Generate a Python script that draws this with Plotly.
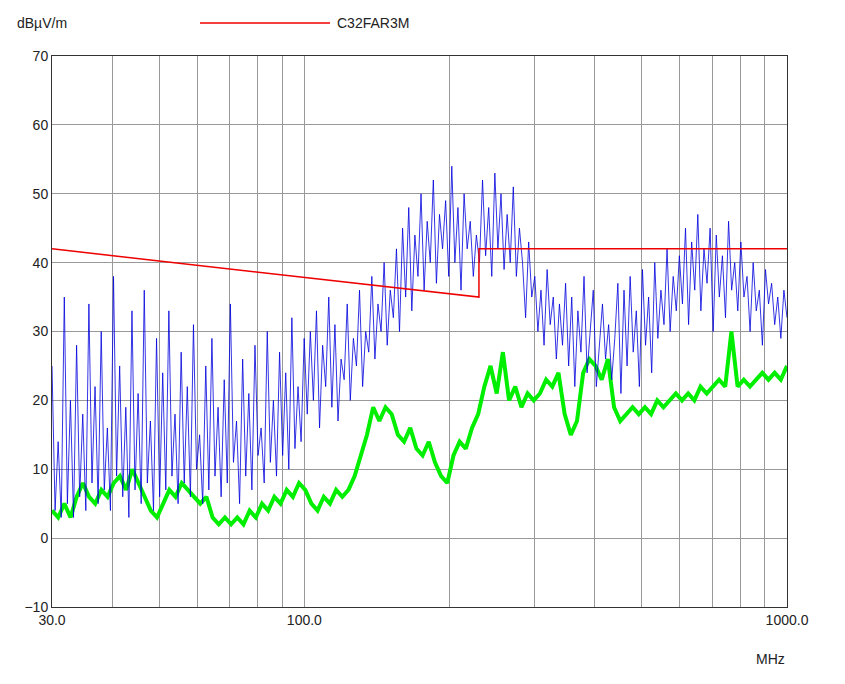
import numpy as np
import plotly.graph_objects as go

limit_freq = [30, 230, 230, 1000]
limit_val = [42, 35, 42, 42]

blue_segments = [
 [25,4,14,3,35,5,20,3,28,6,18,4,34,8,22,5,30,7,16,4,38,9,25,6,19,3,33,7,21,5,36,8,17,4,29,6],
 [24,7,33,9,18,5,27,8,22,6,31,10,15,5,25,7,29,9,19,6,23,8,34,11,17,5,26,9,21,7,28,12,16,8,30,11,20,9,27,12,24,10,32,13,22,14,29],
 [18,30,20,33,16,28,22,35,19,31,17,26,23,34,20,29,25,36,22,30,27,38,26,34,30,40,28,36],
 [32,42,30,45,35,48,33,44,38,50,36,46,40,52,37,47,42,49,38],
 [54,40,48,36,50,42,46,38,44,40],
 [52,41,48,38,53,42,50,39,47,40,51,38,45],
 [40,32,43,35,38,30,36,28,39,31,35,26,34,28,37],
 [25,35,22,33,27,38,24,30,36,22,28,34,26,31,23,29,37],
 [21,36,25,38,27,33,22,39,28,35,24,40,29,36,31,42,30,38,33,41],
 [34,45,31,43,36,47,33,42,37,45,30,44,35,41,32,46,36,40,33,43],
 [35,38,30,40,33,36,28,39,34,37,31,35,29,36,32],
]
green_segments = [
 [4,3,5,3,6,8,6,5,7,6],[8,9,7,10,8,6,4,3],[5,7,6,8,7,6],[5,6,3,2,3,2],
 [3,2,4,3,5,4,6,5,7,6,8,7],[5,4,6,5,7,6],[7,9,12,15,19,17,19],
 [18,15,14,16,13,12,14,11,9,8],[12,14,13,16,18],[22,25,21,27,20,22,19,21,20],
 [21,23,22,24,18,15,17,24],[26,25,23,26,19,17,18,19,18],
 [19,18,20,19,20,21,20,21,20,22,21,22,23,22,30],[22,23,22,23,24,23,24,23,25],
]
blue_val = sum(blue_segments, [])
green_val = sum(green_segments, [])
blue_freq = np.geomspace(30, 1000, len(blue_val))
green_freq = np.geomspace(30, 1000, len(green_val))

grid_x = [30,40,50,60,70,80,90,100,200,300,400,500,600,700,800,900,1000]
grid_text = ["30.0"] + [""]*6 + ["100.0"] + [""]*8 + ["1000.0"]

fig = go.Figure()
fig.add_trace(go.Scatter(x=green_freq, y=green_val, mode="lines", line=dict(color="#00ee00", width=4), showlegend=False))
fig.add_trace(go.Scatter(x=blue_freq, y=blue_val, mode="lines", line=dict(color="#0000dd", width=0.8), showlegend=False))
fig.add_trace(go.Scatter(x=limit_freq, y=limit_val, mode="lines", line=dict(color="#ee0000", width=1.5), showlegend=False))

fig.update_layout(
    width=845, height=684, paper_bgcolor="white", plot_bgcolor="white",
    margin=dict(l=44, r=66, t=48, b=85),
    font=dict(family="Liberation Sans, Arial", size=14, color="#222"),
    xaxis=dict(type="log", range=[np.log10(30), 3], tickvals=grid_x, ticktext=grid_text,
               showgrid=True, gridcolor="#999", gridwidth=1, showline=True, linecolor="#333", mirror=True,
               ticks="", zeroline=False),
    yaxis=dict(range=[-10, 70], dtick=10, showgrid=True, gridcolor="#999", showline=True, linecolor="#333",
               mirror=True, ticks="", zeroline=False),
    shapes=[dict(type="line", xref="paper", yref="paper", x0=(200-52)/735, x1=(330-52)/735, y0=1.06, y1=1.06,
                 line=dict(color="#ee0000", width=1.5))],
    annotations=[
        dict(text="dBµV/m", xref="paper", yref="paper", x=-0.05, y=1.06, xanchor="left", yanchor="middle", showarrow=False),
        dict(text="C32FAR3M", xref="paper", yref="paper", x=(335-52)/735, y=1.06, xanchor="left", yanchor="middle", showarrow=False),
        dict(text="MHz", xref="paper", yref="paper", x=1.0, y=-0.095, xanchor="right", yanchor="middle", showarrow=False),
    ],
)
fig.write_html("out.html")
